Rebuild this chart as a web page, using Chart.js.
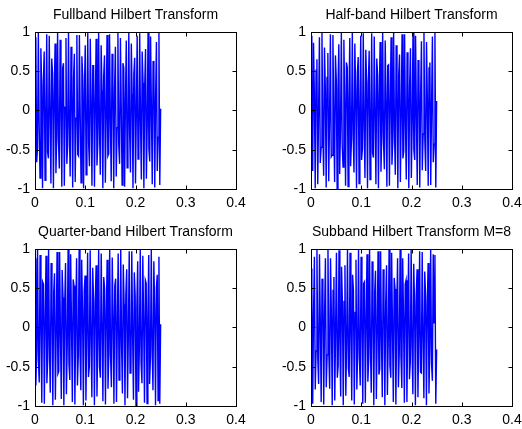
<!DOCTYPE html>
<html>
<head>
<meta charset="utf-8">
<title>Hilbert Transform subplots</title>
<script src="https://cdn.jsdelivr.net/npm/chart.js@4/dist/chart.umd.min.js"></script>
<style>
    html, body { margin: 0; padding: 0; background: #fff; overflow: hidden; }
    #page { position: relative; width: 522px; height: 429px; }
    .panel { position: absolute; width: 261px; height: 214px; }
</style>
</head>
<body>
<div id="page">
    <div class="panel" style="left:0;top:0"><canvas id="plot-fullband" width="261" height="214"></canvas></div>
    <div class="panel" style="left:276px;top:0"><canvas id="plot-halfband" width="261" height="214"></canvas></div>
    <div class="panel" style="left:0;top:217px"><canvas id="plot-quarterband" width="261" height="214"></canvas></div>
    <div class="panel" style="left:276px;top:217px"><canvas id="plot-subband" width="261" height="214"></canvas></div>
</div>
<script>
    "use strict";

    // panel titles and axis ticks
    var panelTitles = [
        'Fullband Hilbert Transform',
        'Half-band Hilbert Transform',
        'Quarter-band Hilbert Transform',
        'Subband Hilbert Transform M=8'
    ];
    var xTicks = [0, 0.1, 0.2, 0.3, 0.4];
    var yTicks = [-1, -0.5, 0, 0.5, 1];
    var signalEnd = 0.25;   // every signal stops at t = 0.25

    var fullband = [
        0.00, 0.93, -0.66, -0.48, 0.99, -0.19, -0.86, 0.79, 0.31, -0.99,
        0.37, 0.75, -0.89, -0.14, 0.97, -0.53, -0.61, 0.95, -0.03, -0.93,
        0.66, 0.47, -0.99, 0.20, 0.85, -0.80, -0.30, 0.99, -0.38, -0.74,
        0.90, 0.13, -0.97, 0.54, 0.60, -0.96, 0.04, 0.92, -0.68, -0.45,
        0.99, -0.22, -0.84, 0.81, 0.28, -0.98, 0.40, 0.72, -0.91, -0.10,
        0.96, -0.56, -0.58, 0.96, -0.07, -0.92, 0.69, 0.43, -0.99, 0.24,
        0.83, -0.82, -0.26, 0.99, -0.41, -0.71, 0.91, 0.09, -0.96, 0.57,
        0.57, -0.97, 0.08, 0.91, -0.70, -0.42, 0.99, -0.25, -0.82, 0.83,
        0.25, -0.99, 0.43, 0.70, -0.92, -0.07, 0.96, -0.58, -0.55, 0.97,
        -0.11, -0.90, 0.72, 0.39, -0.99, 0.27, 0.81, -0.84, -0.22, 0.99,
        -0.45, -0.68, 0.92, 0.05, -0.95, 0.60, 0.54, -0.97, 0.12, 0.89,
        -0.73, -0.38, 0.99, -0.29, -0.79, 0.85, 0.21, -0.99, 0.46, 0.67,
        -0.93, -0.03, 0.95, -0.62, -0.51, 0.98, -0.15, -0.88, 0.75, 0.35,
        -0.99, 0.31, 0.78, -0.87, -0.18, 0.99, -0.49, -0.65, 0.94, 0.01,
        -0.94, 0.63, 0.50, -0.98, 0.16, 0.87, -0.77, -0.34, 0.99, -0.95, 0.02
    ];
    var halfband = [
        0.95, -0.35, -0.77, 0.86, 0.20, -0.99, 0.51, 0.65, -0.94, -0.02,
        0.93, -0.67, -0.47, 0.99, -0.24, -0.83, 0.80, 0.28, -0.98, 0.42,
        0.73, -0.90, -0.11, 0.97, -0.59, -0.57, 0.96, -0.09, -0.91, 0.70,
        0.39, -0.99, 0.26, 0.84, -0.81, -0.21, 0.99, -0.44, -0.72, 0.90,
        0.08, -0.96, 0.61, 0.55, -0.97, 0.13, 0.92, -0.71, -0.37, 0.99,
        -0.30, -0.79, 0.85, 0.23, -0.99, 0.48, 0.68, -0.93, -0.04, 0.95,
        -0.63, -0.49, 0.98, -0.19, -0.86, 0.77, 0.33, -0.99, 0.36, 0.76,
        -0.88, -0.15, 0.98, -0.54, -0.60, 0.94, -0.06, -0.94, 0.66, 0.45,
        -0.99, 0.21, 0.87, -0.78, -0.27, 0.99, -0.40, -0.75, 0.89, 0.11,
        -0.97, 0.57, 0.58, -0.96, 0.10, 0.93, -0.69, -0.40, 0.99, -0.27,
        -0.82, 0.83, 0.26, -0.99, 0.45, 0.71, -0.91, -0.06, 0.97, -0.61,
        -0.52, 0.97, -0.16, -0.88, 0.74, 0.36, -0.99, 0.33, 0.79, -0.86,
        -0.18, 0.99, -0.50, -0.63, 0.95, -0.03, -0.95, 0.64, 0.48, -0.98,
        0.18, 0.88, -0.76, -0.30, 0.99, -0.38, -0.77, 0.87, 0.14, -0.96,
        0.54, 0.61, -0.95, 0.07, 0.94, -0.66, -0.43, 0.99, -0.98, 0.12
    ];
    var quarterband = [
        0.88, -0.74, -0.29, 0.99, -0.42, -0.70, 0.92, 0.06, -0.96, 0.58,
        0.55, -0.97, 0.09, 0.91, -0.71, -0.41, 0.99, -0.26, -0.83, 0.82,
        0.27, -0.99, 0.44, 0.69, -0.92, -0.08, 0.96, -0.59, -0.56, 0.96,
        -0.12, -0.91, 0.73, 0.38, -0.99, 0.28, 0.82, -0.85, -0.21, 0.99,
        -0.46, -0.67, 0.93, 0.04, -0.95, 0.61, 0.53, -0.98, 0.13, 0.88,
        -0.74, -0.37, 0.99, -0.30, -0.80, 0.86, 0.20, -0.99, 0.47, 0.66,
        -0.93, -0.02, 0.95, -0.63, -0.50, 0.98, -0.16, -0.89, 0.76, 0.34,
        -0.99, 0.32, 0.79, -0.88, -0.17, 0.99, -0.50, -0.64, 0.94, 0.00,
        -0.94, 0.64, 0.49, -0.98, 0.17, 0.86, -0.78, -0.33, 0.99, -0.36,
        -0.76, 0.89, 0.14, -0.97, 0.53, 0.62, -0.95, 0.03, 0.94, -0.67,
        -0.46, 0.99, -0.23, -0.84, 0.80, 0.29, -0.99, 0.41, 0.74, -0.90,
        -0.10, 0.97, -0.58, -0.57, 0.97, -0.10, -0.92, 0.70, 0.40, -0.99,
        0.25, 0.84, -0.82, -0.23, 0.99, -0.45, -0.71, 0.91, 0.07, -0.96,
        0.60, 0.56, -0.97, 0.11, 0.92, -0.72, -0.39, 0.99, -0.29, -0.80,
        0.84, 0.22, -0.99, 0.50, 0.67, -0.93, 0.90, -0.97, 0.04
    ];
    var subband = [
        0.75, 0.52, -0.97, 0.18, 0.90, -0.79, -0.30, 0.99, -0.40, -0.72,
        0.93, 0.04, -0.95, 0.62, 0.51, -0.98, 0.15, 0.88, -0.76, -0.35,
        0.99, -0.33, -0.78, 0.88, 0.17, -0.99, 0.47, 0.64, -0.93, -0.01,
        0.95, -0.64, -0.49, 0.98, -0.17, -0.88, 0.77, 0.32, -0.99, 0.33,
        0.79, -0.87, -0.18, 0.99, -0.52, -0.63, 0.95, -0.05, -0.93, 0.67,
        0.47, -0.98, 0.19, 0.86, -0.79, -0.28, 0.99, -0.39, -0.74, 0.90,
        0.10, -0.97, 0.56, 0.58, -0.96, 0.09, 0.93, -0.69, -0.41, 0.99,
        -0.26, -0.83, 0.84, 0.25, -0.99, 0.44, 0.72, -0.91, -0.07, 0.97,
        -0.60, -0.53, 0.97, -0.15, -0.89, 0.74, 0.37, -0.99, 0.32, 0.79,
        -0.86, -0.19, 0.99, -0.49, -0.64, 0.95, -0.02, -0.95, 0.63, 0.49,
        -0.98, 0.17, 0.88, -0.76, -0.31, 0.99, -0.37, -0.77, 0.88, 0.13,
        -0.96, 0.55, 0.60, -0.95, 0.08, 0.94, -0.66, -0.44, 0.99, -0.23,
        -0.85, 0.81, 0.30, -0.99, 0.42, 0.74, -0.89, -0.09, 0.97, -0.57,
        -0.58, 0.96, -0.12, -0.90, 0.71, 0.41, -0.99, 0.28, 0.82, -0.84,
        -0.24, 0.99, -0.46, -0.68, 0.93, 0.06, 0.92, -0.97, -0.28
    ];

    var FONT = { family: "'Liberation Sans', Arial, Helvetica, sans-serif", size: 14, weight: 'normal' };

    // matlab style box with inward tick marks
    var boxPlugin = {
        id: 'matlabBox',
        afterDraw: function (chart) {
            var ctx = chart.ctx;
            var a = chart.chartArea;
            var x = chart.scales.x, y = chart.scales.y;
            var left = Math.round(a.left) + 0.5, right = Math.round(a.right) + 0.5;
            var top = Math.round(a.top) + 0.5, bottom = Math.round(a.bottom) + 0.5;
            ctx.save();
            ctx.strokeStyle = '#000';
            ctx.lineWidth = 1;
            ctx.strokeRect(left, top, right - left, bottom - top);
            ctx.beginPath();
            x.ticks.forEach(function (t) {
                var px = Math.round(x.getPixelForValue(t.value)) + 0.5;
                ctx.moveTo(px, bottom); ctx.lineTo(px, bottom - 4);
                ctx.moveTo(px, top); ctx.lineTo(px, top + 4);
            });
            y.ticks.forEach(function (t) {
                var py = Math.round(y.getPixelForValue(t.value)) + 0.5;
                ctx.moveTo(left, py); ctx.lineTo(left + 4, py);
                ctx.moveTo(right, py); ctx.lineTo(right - 4, py);
            });
            ctx.stroke();
            ctx.restore();
        }
    };

    function toPoints(values) {
        var step = signalEnd / (values.length - 1);
        return values.map(function (v, i) { return { x: i * step, y: v }; });
    }

    function plainLabel(value) {
        return String(value);
    }

    function renderPanel(canvasId, title, values) {
        var ctx = document.getElementById(canvasId).getContext('2d');
        new Chart(ctx, {
            type: 'line',
            data: {
                datasets: [{
                    data: toPoints(values),
                    borderColor: '#0000ff',
                    borderWidth: 1.4,
                    pointRadius: 0,
                    tension: 0,
                    fill: false
                }]
            },
            options: {
                responsive: false,
                animation: false,
                devicePixelRatio: 1,
                layout: { padding: { left: 0, right: 25, top: 0, bottom: 0 } },
                plugins: {
                    legend: { display: false },
                    tooltip: { enabled: false },
                    title: {
                        display: true,
                        text: title,
                        fullSize: false,
                        color: '#000',
                        font: FONT,
                        padding: { top: 7, bottom: 8 }
                    }
                },
                scales: {
                    x: {
                        type: 'linear',
                        min: 0,
                        max: 0.4,
                        grid: { display: false, drawTicks: false },
                        border: { display: false },
                        afterBuildTicks: function (scale) {
                            scale.ticks = xTicks.map(function (v) { return { value: v }; });
                        },
                        afterFit: function (scale) { scale.height = 25; },
                        ticks: { color: '#000', font: FONT, padding: 6, maxRotation: 0, callback: plainLabel }
                    },
                    y: {
                        min: -1,
                        max: 1,
                        grid: { display: false, drawTicks: false },
                        border: { display: false },
                        afterBuildTicks: function (scale) {
                            scale.ticks = yTicks.map(function (v) { return { value: v }; });
                        },
                        afterFit: function (scale) { scale.width = 35; },
                        ticks: { color: '#000', font: FONT, padding: 5, callback: plainLabel }
                    }
                }
            },
            plugins: [boxPlugin]
        });
    }

    renderPanel('plot-fullband', panelTitles[0], fullband);
    renderPanel('plot-halfband', panelTitles[1], halfband);
    renderPanel('plot-quarterband', panelTitles[2], quarterband);
    renderPanel('plot-subband', panelTitles[3], subband);
</script>
</body>
</html>
